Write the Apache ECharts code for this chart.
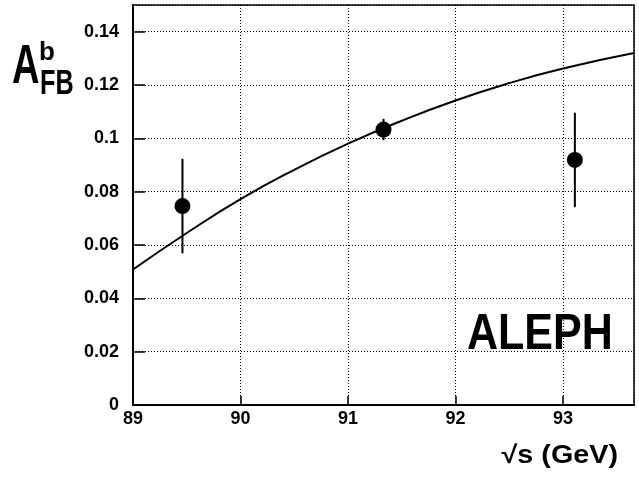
<!DOCTYPE html>
<html><head><meta charset="utf-8">
<script src="https://cdn.jsdelivr.net/npm/echarts@6/dist/echarts.min.js"></script>
<style>html,body{margin:0;padding:0;background:#fff}#c{width:639px;height:477px}</style>
</head><body><div id="c"></div>
<script>
// Data points (sqrt(s), A_FB^b, error)
const pointX = [89.46, 91.33, 93.11];
const pointY = [0.0746, 0.1033, 0.0919];
const pointErr = [0.0177, 0.0040, 0.0177];
// Theory curve
const curveX = [89.0, 89.5, 90.0, 90.5, 91.0, 91.5, 92.0, 92.5, 93.0, 93.66];
const curveY = [0.0508, 0.0645, 0.0772, 0.0882, 0.0980, 0.1066, 0.1142, 0.1207, 0.1262, 0.1320];
const xTicks = [89, 90, 91, 92, 93];
const yTicks = [0, 0.02, 0.04, 0.06, 0.08, 0.1, 0.12, 0.14];

const chart = echarts.init(document.getElementById('c'));
const FONT = 'Liberation Sans, Arial, sans-serif';
chart.setOption({
  animation: false,
  grid: {left: 133, right: 5, top: 5, bottom: 72, show: true, borderColor: '#000', borderWidth: 1.5},
  xAxis: {
    type: 'value', min: 89, max: 93.66, interval: 1,
    axisLine: {show: true, onZero: false, lineStyle: {color: '#000', width: 2}},
    axisTick: {show: true, inside: true, length: 9, lineStyle: {color: '#000', width: 1.5}},
    axisLabel: {showMaxLabel: false, margin: 5, color: '#000', fontSize: 18, fontWeight: 'bold', fontFamily: FONT,
      formatter: v => xTicks.includes(v) ? String(v) : ''},
    splitLine: {show: true, lineStyle: {color: '#000', width: 1, type: [1, 2]}}
  },
  yAxis: {
    type: 'value', min: 0, max: 0.15, interval: 0.02,
    axisLine: {show: true, lineStyle: {color: '#000', width: 2}},
    axisTick: {show: true, inside: true, length: 12, lineStyle: {color: '#000', width: 1.5}},
    axisLabel: {showMaxLabel: false, margin: 14, color: '#000', fontSize: 18, fontWeight: 'bold', fontFamily: FONT,
      formatter: v => { const t = yTicks.find(k => Math.abs(k - v) < 1e-9); return t === undefined ? '' : String(t); }},
    splitLine: {show: true, lineStyle: {color: '#000', width: 1, type: [1, 2]}}
  },
  series: [
    {
      type: 'line', data: curveX.map((x, i) => [x, curveY[i]]), smooth: 0.5, showSymbol: false,
      lineStyle: {color: '#000', width: 2}, z: 3
    },
    {
      type: 'custom',
      data: pointX.map((x, i) => [x, pointY[i] - pointErr[i], pointY[i] + pointErr[i]]),
      renderItem: (params, api) => {
        const lo = api.coord([api.value(0), api.value(1)]);
        const hi = api.coord([api.value(0), api.value(2)]);
        return {type: 'line', shape: {x1: lo[0], y1: lo[1], x2: hi[0], y2: hi[1]}, style: {stroke: '#000', lineWidth: 2}};
      },
      z: 4
    },
    {
      type: 'scatter', data: pointX.map((x, i) => [x, pointY[i]]), symbol: 'circle', symbolSize: 16,
      itemStyle: {color: '#000', opacity: 1}, z: 5
    }
  ],
  graphic: [
    {type: 'text', x: 618, y: 456, scaleX: 1.15, style: {text: '√s (GeV)', font: 'bold 25px ' + FONT, fill: '#000', textAlign: 'right', textVerticalAlign: 'middle'}},
    {type: 'text', x: 12, y: 68, scaleX: 0.68, style: {text: 'A', font: 'bold 56px ' + FONT, fill: '#000', textAlign: 'left', textVerticalAlign: 'middle'}},
    {type: 'text', x: 39, y: 53, style: {text: 'b', font: 'bold 26px ' + FONT, fill: '#000', textAlign: 'left', textVerticalAlign: 'middle'}},
    {type: 'text', x: 40, y: 84, scaleX: 0.72, style: {text: 'FB', font: 'bold 35px ' + FONT, fill: '#000', textAlign: 'left', textVerticalAlign: 'middle'}},
    {type: 'text', x: 467, y: 335, scaleX: 0.86, style: {text: 'ALEPH', font: 'bold 50px ' + FONT, fill: '#000', textAlign: 'left', textVerticalAlign: 'middle'}}
  ]
});
</script></body></html>
